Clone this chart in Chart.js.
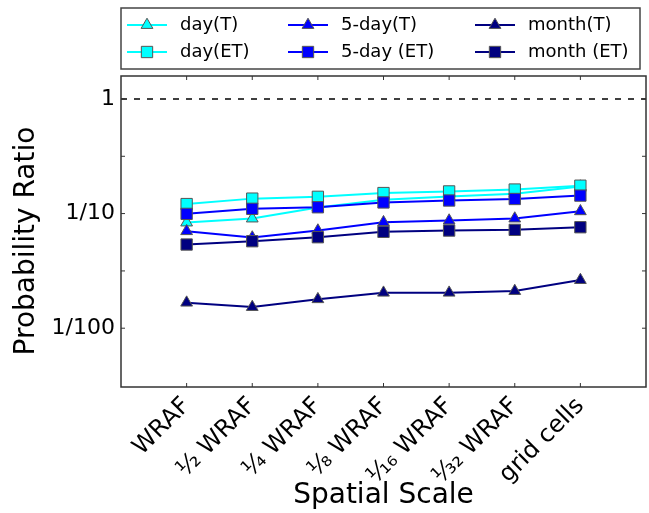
<!DOCTYPE html>
<html>
<head>
<meta charset="utf-8">
<script src="https://cdn.jsdelivr.net/npm/chart.js@4.4.0/dist/chart.umd.min.js"></script>
<style>
  html, body { margin: 0; padding: 0; background: #fff; }
</style>
</head>
<body>
<canvas id="myChart" width="649" height="513"></canvas>
<script>
/* Data */
const scaleLabels = ['WRAF', '¹⁄₂ WRAF', '¹⁄₄ WRAF', '¹⁄₈ WRAF', '¹⁄₁₆ WRAF', '¹⁄₃₂ WRAF', 'grid cells'];
const dayT = [0.0835, 0.0905, 0.113, 0.132, 0.141, 0.149, 0.172];
const dayET = [0.121, 0.135, 0.140, 0.151, 0.156, 0.162, 0.175];
const fiveDayT = [0.0702, 0.0618, 0.0711, 0.0840, 0.0869, 0.0905, 0.1047];
const fiveDayET = [0.0994, 0.110, 0.1135, 0.125, 0.130, 0.134, 0.1435];
const monthT = [0.0167, 0.0153, 0.0179, 0.0204, 0.0204, 0.0211, 0.0263];
const monthET = [0.0537, 0.0574, 0.0622, 0.0693, 0.0711, 0.0721, 0.0760];
const yTicks = [0.01, 0.1, 1];
const yTickLabels = ['1/100', '1/10', '1'];
const yMinorTicks = [0.0316, 0.316];
const refValue = 1;

const FONT = 'DejaVu Sans';
const EDGE = '#555555';

function series(label, values, color, shape) {
    return {
        label: label,
        data: values.map((v, i) => ({x: i, y: v})),
        borderColor: color,
        backgroundColor: color,
        borderWidth: 2,
        pointStyle: shape,
        pointRadius: shape === 'rect' ? 8 : 6.8,
        pointBackgroundColor: color,
        pointBorderColor: EDGE,
        pointBorderWidth: 1,
        tension: 0
    };
}

// legend order (column by column), later ones drawn on top
var datasets = [
    series('day(T)', dayT, '#00FFFF', 'triangle'),
    series('day(ET)', dayET, '#00FFFF', 'rect'),
    series('5-day(T)', fiveDayT, '#0000FF', 'triangle'),
    series('5-day (ET)', fiveDayET, '#0000FF', 'rect'),
    series('month(T)', monthT, '#000080', 'triangle'),
    series('month (ET)', monthET, '#000080', 'rect')
];
datasets.forEach((d, i) => { d.order = datasets.length - i; });

function drawMarker(ctx, shape, x, y, r, fill) {
    ctx.beginPath();
    if (shape === 'rect') {
        var s = r * Math.SQRT1_2;
        ctx.rect(x - s, y - s, 2 * s, 2 * s);
    } else {
        ctx.moveTo(x, y - r);
        ctx.lineTo(x + r * 0.866, y + r / 2);
        ctx.lineTo(x - r * 0.866, y + r / 2);
        ctx.closePath();
    }
    ctx.fillStyle = fill;
    ctx.fill();
    ctx.strokeStyle = EDGE;
    ctx.lineWidth = 1;
    ctx.stroke();
}

/* Frame, inner ticks, dashed line at 1, legend box, y label */
const decorations = {
    id: 'decorations',
    beforeDatasetsDraw(chart) {
        const ctx = chart.ctx;
        const a = chart.chartArea;
        const py = chart.scales.y.getPixelForValue(refValue);
        ctx.save();
        ctx.setLineDash([6, 7]);
        ctx.strokeStyle = '#000';
        ctx.lineWidth = 1.5;
        ctx.beginPath();
        ctx.moveTo(a.left, py);
        ctx.lineTo(a.right, py);
        ctx.stroke();
        ctx.restore();
    },
    afterDatasetsDraw(chart) {
        const ctx = chart.ctx;
        const a = chart.chartArea;
        const xs = chart.scales.x, ys = chart.scales.y;
        ctx.save();
        ctx.strokeStyle = '#333';
        ctx.lineWidth = 1.5;
        ctx.strokeRect(a.left, a.top, a.right - a.left, a.bottom - a.top);
        ctx.lineWidth = 1;
        ctx.beginPath();
        scaleLabels.forEach((_, i) => {
            const px = xs.getPixelForValue(i);
            ctx.moveTo(px, a.bottom); ctx.lineTo(px, a.bottom - 4);
            ctx.moveTo(px, a.top); ctx.lineTo(px, a.top + 4);
        });
        yTicks.concat(yMinorTicks).forEach(v => {
            const py = ys.getPixelForValue(v);
            ctx.moveTo(a.left, py); ctx.lineTo(a.left + 4, py);
            ctx.moveTo(a.right, py); ctx.lineTo(a.right - 4, py);
        });
        ctx.stroke();
        ctx.restore();
    },
    afterDraw(chart) {
        const ctx = chart.ctx;
        const a = chart.chartArea;
        ctx.save();
        // legend box
        const bx = a.left, by = 8, bw = 519, bh = 61;
        ctx.fillStyle = '#fff';
        ctx.fillRect(bx, by, bw, bh);
        ctx.strokeStyle = '#444';
        ctx.lineWidth = 1.5;
        ctx.strokeRect(bx, by, bw, bh);
        const colX = [6, 167, 354];
        const rowY = [17, 44];
        chart.data.datasets.forEach((d, k) => {
            const lx = bx + colX[Math.floor(k / 2)];
            const ly = by + rowY[k % 2];
            ctx.strokeStyle = d.borderColor;
            ctx.lineWidth = 2;
            ctx.beginPath();
            ctx.moveTo(lx, ly);
            ctx.lineTo(lx + 40, ly);
            ctx.stroke();
            drawMarker(ctx, d.pointStyle, lx + 20, ly, d.pointRadius, d.pointBackgroundColor);
            ctx.fillStyle = '#000';
            ctx.font = '18px "' + FONT + '"';
            ctx.textAlign = 'left';
            ctx.textBaseline = 'middle';
            ctx.fillText(d.label, lx + 53, ly);
        });
        // y axis title
        ctx.translate(27, a.top + 165);
        ctx.rotate(-Math.PI / 2);
        ctx.font = '28px "' + FONT + '"';
        ctx.textAlign = 'center';
        ctx.textBaseline = 'middle';
        ctx.fillStyle = '#000';
        ctx.fillText('Probability Ratio', 0, 0);
        ctx.restore();
    }
};

const ctx = document.getElementById('myChart');

var myChart = new Chart(ctx, {
    type: 'line',
    data: { datasets: datasets },
    options: {
        responsive: false,
        animation: false,
        events: [],
        layout: { autoPadding: false, padding: { top: 76, right: 3, left: 0, bottom: 0 } },
        plugins: { legend: { display: false }, tooltip: { enabled: false } },
        scales: {
            x: {
                type: 'linear',
                min: -1,
                max: 7,
                afterFit: s => { s.height = 126; s.paddingLeft = 0; s.paddingRight = 0; },
                afterBuildTicks: s => { s.ticks = scaleLabels.map((_, i) => ({value: i})); },
                grid: { display: false, drawTicks: false },
                border: { display: false },
                ticks: {
                    autoSkip: false,
                    minRotation: 45,
                    maxRotation: 45,
                    padding: 5,
                    color: '#000',
                    font: { family: FONT, size: 24 },
                    callback: v => scaleLabels[v] !== undefined ? scaleLabels[v] : ''
                },
                title: {
                    display: true,
                    text: 'Spatial Scale',
                    color: '#000',
                    font: { family: FONT, size: 28 },
                    padding: { top: 0, bottom: 0 }
                }
            },
            y: {
                type: 'logarithmic',
                min: 0.00307,
                max: 1.585,
                afterFit: s => { s.width = 121; },
                afterBuildTicks: s => { s.ticks = yTicks.concat(yMinorTicks).map(v => ({value: v})); },
                grid: { display: false, drawTicks: false },
                border: { display: false },
                ticks: {
                    padding: 6,
                    color: '#000',
                    font: { family: FONT, size: 22 },
                    callback: v => { var i = yTicks.indexOf(v); return i >= 0 ? yTickLabels[i] : ''; }
                }
            }
        }
    },
    plugins: [decorations]
});
</script>
</body>
</html>
